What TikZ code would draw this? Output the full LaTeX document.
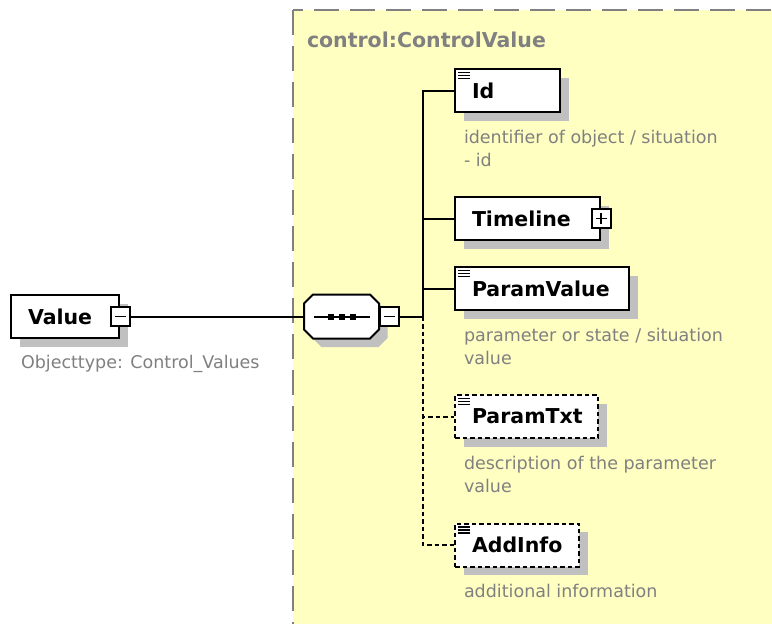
\documentclass[tikz,border=0pt]{standalone}
\usepackage{fontspec}
\setmainfont{DejaVu Sans}
\usetikzlibrary{calc,shadows}
\definecolor{bgyellow}{RGB}{255,255,194}
\definecolor{shadegray}{RGB}{192,192,192}
\definecolor{textgray}{RGB}{128,128,128}

\newcommand{\docmark}[1]{%
  \foreach \d in {4.5,7.5,10.5}
    \draw[line width=1.3pt] ($(#1.north west)+(4,\d)$) -- ++(12,0);}

\begin{document}
\begin{tikzpicture}[x=1pt,y=-1pt,line width=2pt,
    shade/.style={drop shadow={shadow xshift=8.5pt, shadow yshift=-8.5pt, fill=shadegray, opacity=1}},
    elem/.style={draw, fill=white, shade, anchor=west, minimum height=43pt, inner xsep=17pt, inner ysep=0pt,
      text width=#1, align=left, font=\fontsize{20.5}{24}\selectfont\bfseries},
    optelem/.style={elem=#1, dash pattern=on 4.5pt off 3pt},
    pmbox/.style={draw, fill=white, minimum size=19pt, inner sep=0pt},
    minus/.style={pmbox, path picture={
      \draw[line width=1.8pt] ([xshift=4pt]path picture bounding box.west) -- ([xshift=-4pt]path picture bounding box.east);}},
    plus/.style={pmbox, path picture={
      \draw[line width=1.8pt] ([xshift=4pt]path picture bounding box.west) -- ([xshift=-4pt]path picture bounding box.east);
      \draw[line width=1.8pt] ([yshift=-4pt]path picture bounding box.north) -- ([yshift=4pt]path picture bounding box.south);}},
    seqnode/.style={minimum width=73pt, minimum height=42pt, inner sep=0pt},
    desc/.style={anchor=base west, align=left, text=textgray, inner sep=0pt, font=\fontsize{17.5}{23}\selectfont},
    dashline/.style={dash pattern=on 4.5pt off 3pt}]

          \clip (0,0) rectangle (772,624);
          \fill[white] (0,0) rectangle (772,624);
          \draw[draw=textgray, fill=bgyellow, line width=2pt, dash pattern=on 25pt off 11pt] (293,10) rectangle (800,660);

          \node[anchor=base west, inner sep=0pt, text=textgray, font=\fontsize{20.5}{24}\selectfont\bfseries] (title) at (306,47) {control:ControlValue};

          \node[elem=74pt] (value) at (10,316.5) {Value};
          \node[minus] (valuepm) at (value.east) {};
          \node[desc] (valuedesc) at (20,368) {Objecttype: Control\_Values};

          \node[seqnode] (seq) at (341.5,316.5) {};
          \draw[fill=white, shade] ([xshift=9pt]seq.north west) -- ([xshift=-9pt]seq.north east)
            -- ([yshift=-9pt]seq.north east) -- ([yshift=9pt]seq.south east)
            -- ([xshift=-9pt]seq.south east) -- ([xshift=9pt]seq.south west)
            -- ([yshift=9pt]seq.south west) -- ([yshift=-9pt]seq.north west) -- cycle;
          \draw ([xshift=10pt]seq.west) -- ([xshift=-9pt]seq.east);
          \foreach \x in {-11,0,11}
            \fill ($(seq.center)+(\x,0)$) +(-3,-3) rectangle +(3,3);
          \node[minus, anchor=west] (seqpm) at (seq.east) {};
          \coordinate (fork) at (423,316.5);

          \node[elem=71pt] (id) at (454,90.5) {Id};
          \node[elem=111pt] (timeline) at (454,218.5) {Timeline};
          \node[plus] (timelinepm) at (timeline.east) {};
          \node[elem=140pt] (paramvalue) at (454,288.5) {ParamValue};
          \node[optelem=109pt] (paramtxt) at (454,416.5) {ParamTxt};
          \node[optelem=90pt] (addinfo) at (454,545) {AddInfo};
          \docmark{id}
          \docmark{paramvalue}
          \docmark{paramtxt}
          \docmark{addinfo}

          \node[desc] (iddesc) at (463,166) {identifier of object / situation\\- id};
          \node[desc] (paramvaluedesc) at (463,364) {parameter or state / situation\\value};
          \node[desc] (paramtxtdesc) at (463,492) {description of the parameter\\value};
          \node[desc] (addinfodesc) at (463,597) {additional information};

          \draw (valuepm) -- (seq);
          \draw (seqpm) -- (fork);
          \draw (fork) |- (id);
          \draw (fork) |- (timeline);
          \draw (fork) |- (paramvalue);
          \draw[dashline] (fork) |- (paramtxt);
          \draw[dashline] (fork) |- (addinfo);

      \end{tikzpicture}
\end{document}
